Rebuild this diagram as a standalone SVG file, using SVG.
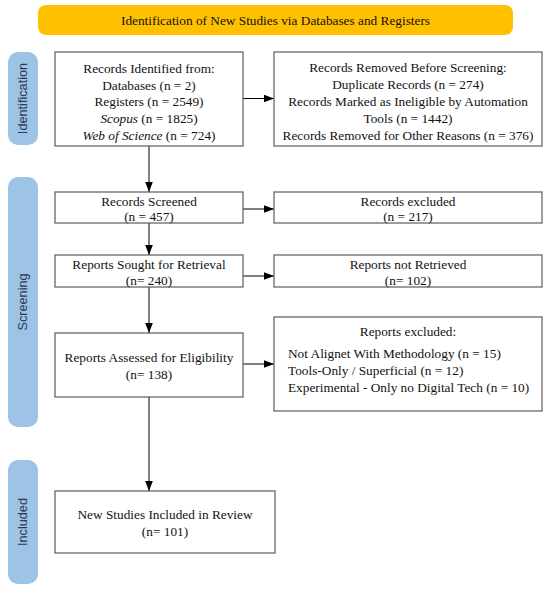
<svg xmlns="http://www.w3.org/2000/svg" width="550" height="589" viewBox="0 0 550 589">
<defs>
<marker id="ah" markerWidth="12" markerHeight="10" refX="10" refY="5" orient="auto" markerUnits="userSpaceOnUse">
<path d="M0,1.2 L10,5 L0,8.8 Z" fill="#000"/>
</marker>
<style>
.box{fill:#fff;stroke:#5a5a5a;stroke-width:1.2}
.side{fill:#9dc3e6}
.t{font-family:"Liberation Serif","Times New Roman",serif;font-size:13.3px;fill:#111;text-anchor:middle;dominant-baseline:central}
.l{text-anchor:start}
.s{font-family:"Liberation Sans",Arial,sans-serif;font-size:12.7px;fill:#2a3a50;text-anchor:middle;dominant-baseline:central}
.c{stroke:#000;stroke-width:1;fill:none;marker-end:url(#ah)}
</style>
</defs>
<rect width="550" height="589" fill="#fff"/>
<g id="banner">
<rect x="38" y="5" width="475" height="30" rx="8" fill="#ffc000"/>
<text class="t" x="275.5" y="20.5" fill="#333">Identification of New Studies via Databases and Registers</text>
</g>
<g id="side-identification">
<rect class="side" x="8" y="52" width="30" height="93" rx="10"/>
<text class="s" transform="translate(23,98.5) rotate(-90)">Identification</text>
</g>
<g id="side-screening">
<rect class="side" x="8" y="177" width="30" height="250" rx="10"/>
<text class="s" transform="translate(23,302) rotate(-90)">Screening</text>
</g>
<g id="side-included">
<rect class="side" x="8" y="460" width="30" height="124" rx="10"/>
<text class="s" transform="translate(23,522) rotate(-90)">Included</text>
</g>
<g id="connectors">
<line class="c" x1="243" y1="98.5" x2="274" y2="98.5"/>
<line class="c" x1="149" y1="146" x2="149" y2="192"/>
<line class="c" x1="243" y1="209" x2="274" y2="209"/>
<line class="c" x1="149" y1="223" x2="149" y2="255"/>
<line class="c" x1="243" y1="276" x2="274" y2="276"/>
<line class="c" x1="149" y1="287" x2="149" y2="333"/>
<line class="c" x1="243" y1="364" x2="274" y2="364"/>
<line class="c" x1="149" y1="397" x2="149" y2="491"/>
</g>
<g id="records-identified">
<rect class="box" x="55" y="52" width="188" height="94"/>
<text class="t" x="149" y="68">Records Identified from:</text>
<text class="t" x="149" y="85">Databases (n = 2)</text>
<text class="t" x="149" y="101.5">Registers (n = 2549)</text>
<text class="t" x="149" y="118"><tspan font-style="italic">Scopus</tspan> (n = 1825)</text>
<text class="t" x="149" y="135"><tspan font-style="italic">Web of Science</tspan> (n = 724)</text>
</g>
<g id="records-removed">
<rect class="box" x="274" y="52" width="268" height="94"/>
<text class="t" x="408" y="67.5">Records Removed Before Screening:</text>
<text class="t" x="408" y="84.5">Duplicate Records (n = 274)</text>
<text class="t" x="408" y="101.5">Records Marked as Ineligible by Automation</text>
<text class="t" x="408" y="118.5">Tools (n = 1442)</text>
<text class="t" x="408" y="135.5">Records Removed for Other Reasons (n = 376)</text>
</g>
<g id="records-screened">
<rect class="box" x="55" y="192" width="188" height="31"/>
<text class="t" x="149" y="201">Records Screened</text>
<text class="t" x="149" y="216.5">(n = 457)</text>
</g>
<g id="records-excluded">
<rect class="box" x="274" y="192" width="268" height="31"/>
<text class="t" x="408" y="201">Records excluded</text>
<text class="t" x="408" y="216.5">(n = 217)</text>
</g>
<g id="reports-sought">
<rect class="box" x="55" y="255" width="188" height="32"/>
<text class="t" x="149" y="264">Reports Sought for Retrieval</text>
<text class="t" x="149" y="280">(n= 240)</text>
</g>
<g id="reports-not-retrieved">
<rect class="box" x="274" y="255" width="268" height="32"/>
<text class="t" x="408" y="264">Reports not Retrieved</text>
<text class="t" x="408" y="280">(n= 102)</text>
</g>
<g id="reports-assessed">
<rect class="box" x="55" y="333" width="188" height="64"/>
<text class="t" x="149" y="357">Reports Assessed for Eligibility</text>
<text class="t" x="149" y="374">(n= 138)</text>
</g>
<g id="reports-excluded">
<rect class="box" x="274" y="317" width="268" height="94"/>
<text class="t" x="408" y="331">Reports excluded:</text>
<text class="t l" x="288" y="353.5">Not Alignet With Methodology (n = 15)</text>
<text class="t l" x="288" y="370.5">Tools-Only / Superficial (n = 12)</text>
<text class="t l" x="288" y="387.5">Experimental - Only no Digital Tech (n = 10)</text>
</g>
<g id="included">
<rect class="box" x="55" y="491" width="220" height="62"/>
<text class="t" x="165" y="514">New Studies Included in Review</text>
<text class="t" x="165" y="531">(n= 101)</text>
</g>
</svg>
